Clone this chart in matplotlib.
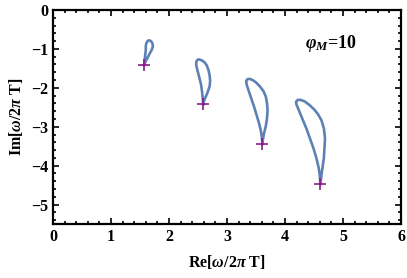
import matplotlib
matplotlib.use("Agg")
import matplotlib.pyplot as plt
from matplotlib.ticker import MultipleLocator

plt.rcParams['mathtext.fontset'] = 'custom'
plt.rcParams['mathtext.rm'] = 'Liberation Serif:bold'
plt.rcParams['mathtext.it'] = 'Liberation Serif:italic:bold'
plt.rcParams['mathtext.bf'] = 'Liberation Serif:bold'

loop1_x = [1.57, 1.58, 1.59, 1.60, 1.60, 1.61, 1.63, 1.65, 1.68, 1.70, 1.72, 1.72, 1.70, 1.67, 1.64, 1.61, 1.59, 1.57]
loop1_y = [-1.41, -1.29, -1.15, -1.03, -0.92, -0.85, -0.80, -0.78, -0.79, -0.82, -0.88, -0.95, -1.03, -1.11, -1.20, -1.28, -1.35, -1.41]

loop2_x = [2.59, 2.58, 2.57, 2.55, 2.52, 2.49, 2.47, 2.47, 2.49, 2.52, 2.56, 2.61, 2.65, 2.68, 2.70, 2.71, 2.70, 2.67, 2.63, 2.60, 2.59]
loop2_y = [-2.42, -2.25, -2.10, -1.90, -1.72, -1.55, -1.42, -1.33, -1.28, -1.27, -1.29, -1.34, -1.42, -1.54, -1.68, -1.82, -1.96, -2.10, -2.24, -2.35, -2.42]

loop3_x = [3.61, 3.60, 3.58, 3.55, 3.51, 3.47, 3.42, 3.37, 3.34, 3.33, 3.35, 3.39, 3.44, 3.50, 3.57, 3.63, 3.67, 3.69, 3.70, 3.69, 3.67, 3.64, 3.62, 3.61]
loop3_y = [-3.44, -3.25, -3.08, -2.90, -2.70, -2.50, -2.28, -2.06, -1.92, -1.83, -1.78, -1.77, -1.80, -1.86, -1.97, -2.09, -2.23, -2.40, -2.58, -2.78, -2.98, -3.16, -3.32, -3.44]

loop4_x = [4.61, 4.60, 4.58, 4.54, 4.49, 4.43, 4.37, 4.30, 4.24, 4.20, 4.19, 4.22, 4.27, 4.34, 4.42, 4.50, 4.57, 4.63, 4.67, 4.69, 4.68, 4.67, 4.65, 4.63, 4.62, 4.61]
loop4_y = [-4.47, -4.25, -4.05, -3.80, -3.55, -3.30, -3.05, -2.80, -2.58, -2.44, -2.36, -2.31, -2.31, -2.35, -2.44, -2.55, -2.68, -2.84, -3.04, -3.30, -3.56, -3.80, -4.02, -4.22, -4.36, -4.47]

marker_x = [1.57, 2.59, 3.61, 4.61]
marker_y = [-1.41, -2.42, -3.44, -4.47]

x_ticks = [0, 1, 2, 3, 4, 5, 6]
y_ticks = [0, -1, -2, -3, -4, -5]

fig = plt.figure(figsize=(4.07, 2.78), dpi=100)
ax = fig.add_axes([53/407, 1 - 224/278, (401 - 53)/407, (224 - 10)/278])

line_color = '#5E81B5'
for lx, ly in [(loop1_x, loop1_y), (loop2_x, loop2_y), (loop3_x, loop3_y), (loop4_x, loop4_y)]:
    ax.plot(lx, ly, color=line_color, lw=1.9, solid_joinstyle='round')

ax.plot(marker_x, marker_y, linestyle='none', marker='+', color='#8B1A8B', markersize=8, markeredgewidth=1.2)

ax.set_xlim(0, 6)
ax.set_ylim(-5.5, 0)
ax.set_xticks(x_ticks)
ax.set_yticks(y_ticks)
ax.set_xticklabels([str(v) for v in x_ticks])
ax.set_yticklabels([str(v).replace('-', '\u2212') for v in y_ticks])
ax.xaxis.set_minor_locator(MultipleLocator(0.2))
ax.yaxis.set_minor_locator(MultipleLocator(0.2))
ax.tick_params(which='both', direction='in', top=True, right=True, width=1.2, color='black')
ax.tick_params(which='major', length=4.5)
ax.tick_params(which='minor', length=2.5)
for lab in ax.get_xticklabels() + ax.get_yticklabels():
    lab.set_fontfamily('Liberation Serif')
    lab.set_fontweight('bold')
    lab.set_fontsize(11.5)
for sp in ax.spines.values():
    sp.set_linewidth(1.6)

ax.set_xlabel(r'$\mathrm{Re}[\omega/2\pi\ \mathrm{T}]$', fontsize=11.5, labelpad=6)
ax.set_ylabel(r'$\mathrm{Im}[\omega/2\pi\ \mathrm{T}]$', fontsize=11.5, labelpad=4)

ax.text(4.34, -0.87, r'$\varphi_M$=10', fontsize=13, va='center', ha='left',
        fontfamily='Liberation Serif', fontweight='bold')

fig.savefig('out.png', dpi=100)
